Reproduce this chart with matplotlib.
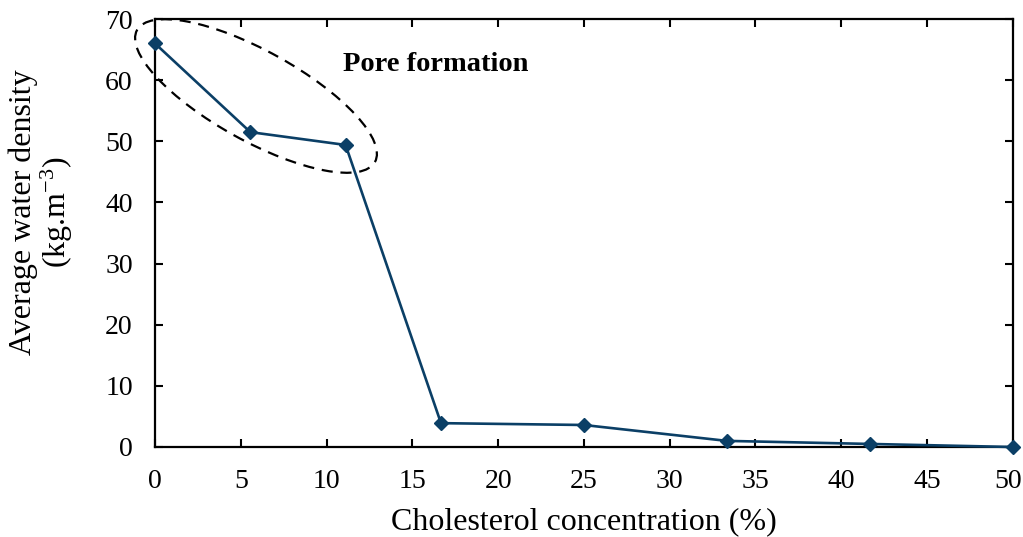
import matplotlib
matplotlib.use('Agg')
import matplotlib.pyplot as plt
from matplotlib.patches import Ellipse
from matplotlib.transforms import ScaledTranslation

plt.rcParams['font.family'] = ['Liberation Serif', 'DejaVu Serif']
plt.rcParams['mathtext.default'] = 'regular'

# cholesterol concentration (%) and average water density (kg/m^3)
cholesterol = [0, 5.56, 11.11, 16.67, 25, 33.33, 41.67, 50]
density = [66.0, 51.5, 49.4, 3.9, 3.6, 1.0, 0.5, 0.0]

fig = plt.figure(figsize=(10.23, 5.37), dpi=100)
ax = fig.add_axes([0.1515, 0.1676, 0.8385, 0.797])

ax.plot(cholesterol, density, color='#0b3f66', lw=1.9, marker='D', ms=7, clip_on=False, zorder=3)

ax.set_xlim(0, 50)
ax.set_ylim(0, 70)
ax.set_xticks(range(0, 51, 5))
ax.set_yticks(range(0, 71, 10))
ax.tick_params(direction='in', length=6, width=1.5, top=True, right=True, labelsize=20, pad=16)
for s in ax.spines.values():
    s.set_linewidth(1.6)

# nudge last x tick label so it stays inside the figure
last = ax.get_xticklabels()[-1]
last.set_transform(last.get_transform() + ScaledTranslation(-3 / 72, 0, fig.dpi_scale_trans))

ax.set_xlabel('Cholesterol concentration (%)', fontsize=23, labelpad=9)
ax.set_ylabel('Average water density\n(kg.m$^{-3}$)', fontsize=23, linespacing=1.05)
ax.yaxis.set_label_coords(-0.093, 0.549)

# dashed ellipse around the pore formation points
ell = Ellipse((2.56, 4.41), 2.72, 0.9, angle=-29, transform=fig.dpi_scale_trans,
              fill=False, ls=(0, (5, 3.5)), lw=1.6, color='black', clip_on=False)
fig.add_artist(ell)
ax.text(10.96, 62.5, 'Pore formation', fontsize=20.5, fontweight='bold', va='center', ha='left')

fig.savefig('out.png', dpi=100)
